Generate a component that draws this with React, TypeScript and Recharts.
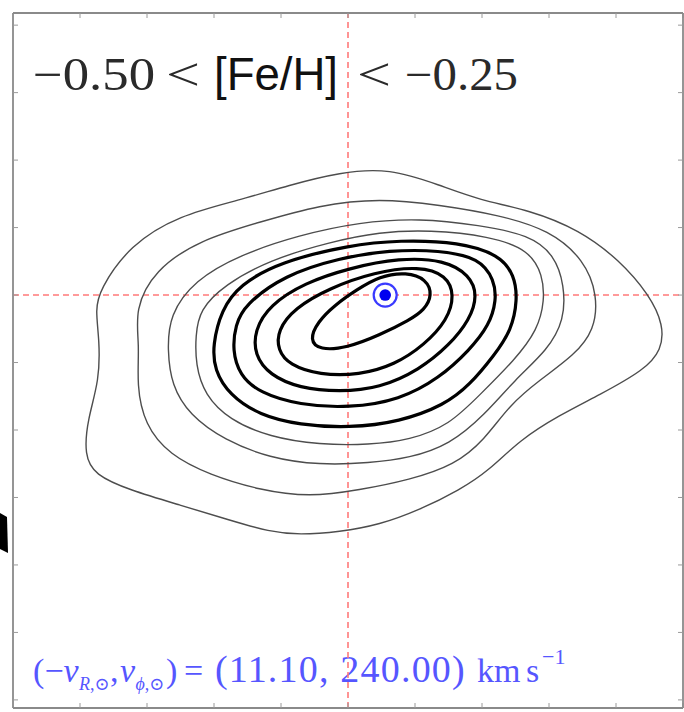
import React from 'react';
import { ScatterChart, Scatter, XAxis, YAxis, ReferenceLine, Customized } from 'recharts';

// Axis ticks (km/s)
const vRTicks = [-100, -80, -60, -40, -20, 0, 20, 40, 60, 80, 100];
const vPhiTicks = [120, 140, 160, 180, 200, 220, 240, 260, 280, 300, 320];

// Solar reference velocity
const sunVelocity = [{ vR: 11.1, vPhi: 240 }];
const sunLabel = '(11.10, 240.00)';
const titleParts = ['\u22120.50', '<', '[Fe/H]', '<', '\u22120.25'];

// Density contours in the (-v_R, v_phi) plane, outermost first
const level1 = [
  { vR: -75.4, vPhi: 235.6 }, { vR: -74.2, vPhi: 241.5 }, { vR: -65.2, vPhi: 254.8 }, { vR: -50.3, vPhi: 263.7 },
  { vR: -32.4, vPhi: 268.1 }, { vR: -17.5, vPhi: 272.6 }, { vR: -2.5, vPhi: 276.4 }, { vR: 12.4, vPhi: 277.6 },
  { vR: 27.3, vPhi: 272.6 }, { vR: 39.3, vPhi: 268.1 }, { vR: 54.2, vPhi: 265.2 }, { vR: 69.1, vPhi: 259.3 },
  { vR: 81.0, vPhi: 250.4 }, { vR: 90.0, vPhi: 240.0 }, { vR: 94.2, vPhi: 231.1 }, { vR: 93.6, vPhi: 223.7 },
  { vR: 88.5, vPhi: 217.8 }, { vR: 75.1, vPhi: 210.4 }, { vR: 63.1, vPhi: 204.4 }, { vR: 51.2, vPhi: 197.0 },
  { vR: 42.2, vPhi: 188.1 }, { vR: 33.3, vPhi: 182.2 }, { vR: 21.3, vPhi: 176.3 }, { vR: 9.4, vPhi: 171.9 },
  { vR: -2.5, vPhi: 169.8 }, { vR: -14.5, vPhi: 168.9 }, { vR: -23.4, vPhi: 169.8 }, { vR: -35.4, vPhi: 173.3 },
  { vR: -50.3, vPhi: 177.8 }, { vR: -65.2, vPhi: 182.2 }, { vR: -75.7, vPhi: 186.7 }, { vR: -78.7, vPhi: 192.6 },
  { vR: -77.8, vPhi: 203.0 }, { vR: -74.2, vPhi: 214.8 }, { vR: -74.2, vPhi: 226.7 },
];

const level2 = [
  { vR: -63.7, vPhi: 235.6 }, { vR: -57.8, vPhi: 247.4 }, { vR: -44.3, vPhi: 256.3 }, { vR: -26.4, vPhi: 261.6 },
  { vR: -8.5, vPhi: 266.7 }, { vR: 9.4, vPhi: 268.7 }, { vR: 27.3, vPhi: 266.7 }, { vR: 45.2, vPhi: 263.7 },
  { vR: 60.1, vPhi: 259.3 }, { vR: 70.6, vPhi: 250.4 }, { vR: 74.5, vPhi: 240.0 }, { vR: 73.6, vPhi: 229.6 },
  { vR: 67.6, vPhi: 222.2 }, { vR: 57.2, vPhi: 214.8 }, { vR: 48.2, vPhi: 207.4 }, { vR: 40.7, vPhi: 197.0 },
  { vR: 31.8, vPhi: 189.6 }, { vR: 18.4, vPhi: 185.2 }, { vR: 3.4, vPhi: 182.2 }, { vR: -11.5, vPhi: 180.1 },
  { vR: -26.4, vPhi: 182.2 }, { vR: -41.3, vPhi: 186.7 }, { vR: -53.3, vPhi: 192.6 }, { vR: -60.7, vPhi: 201.5 },
  { vR: -63.1, vPhi: 213.3 }, { vR: -62.2, vPhi: 225.2 },
];

const level3 = [
  { vR: -53.3, vPhi: 234.1 }, { vR: -45.8, vPhi: 244.4 }, { vR: -32.4, vPhi: 251.9 }, { vR: -14.5, vPhi: 257.8 },
  { vR: 3.4, vPhi: 261.6 }, { vR: 21.3, vPhi: 262.8 }, { vR: 39.3, vPhi: 260.7 }, { vR: 54.2, vPhi: 257.8 },
  { vR: 61.6, vPhi: 251.9 }, { vR: 64.6, vPhi: 243.0 }, { vR: 64.6, vPhi: 232.6 }, { vR: 59.6, vPhi: 223.7 },
  { vR: 49.7, vPhi: 214.8 }, { vR: 40.7, vPhi: 204.4 }, { vR: 30.3, vPhi: 195.6 }, { vR: 18.4, vPhi: 191.7 },
  { vR: 6.4, vPhi: 190.2 }, { vR: -8.5, vPhi: 189.6 }, { vR: -23.4, vPhi: 191.7 }, { vR: -36.9, vPhi: 197.0 },
  { vR: -47.3, vPhi: 204.4 }, { vR: -52.7, vPhi: 213.3 }, { vR: -53.9, vPhi: 223.7 },
];

const level4 = [
  { vR: -44.3, vPhi: 235.6 }, { vR: -36.9, vPhi: 243.0 }, { vR: -23.4, vPhi: 250.4 }, { vR: -5.5, vPhi: 255.7 },
  { vR: 9.4, vPhi: 258.7 }, { vR: 24.3, vPhi: 259.3 }, { vR: 42.2, vPhi: 257.5 }, { vR: 54.2, vPhi: 253.3 },
  { vR: 58.1, vPhi: 245.9 }, { vR: 58.7, vPhi: 238.5 }, { vR: 56.6, vPhi: 229.6 }, { vR: 49.7, vPhi: 220.7 },
  { vR: 39.3, vPhi: 210.4 }, { vR: 30.3, vPhi: 201.5 }, { vR: 18.4, vPhi: 197.0 }, { vR: 6.4, vPhi: 195.6 },
  { vR: -8.5, vPhi: 195.6 }, { vR: -23.4, vPhi: 197.9 }, { vR: -35.4, vPhi: 203.0 }, { vR: -42.8, vPhi: 210.4 },
  { vR: -45.5, vPhi: 219.3 }, { vR: -45.5, vPhi: 228.1 },
];

const level5 = [
  { vR: -37.8, vPhi: 235.6 }, { vR: -32.4, vPhi: 243.0 }, { vR: -20.4, vPhi: 249.8 }, { vR: 0.4, vPhi: 254.8 },
  { vR: 15.4, vPhi: 256.3 }, { vR: 33.3, vPhi: 255.7 }, { vR: 45.2, vPhi: 251.9 }, { vR: 49.7, vPhi: 245.9 },
  { vR: 50.6, vPhi: 238.5 }, { vR: 48.8, vPhi: 229.6 }, { vR: 43.7, vPhi: 222.2 }, { vR: 36.3, vPhi: 213.3 },
  { vR: 28.8, vPhi: 207.4 }, { vR: 15.4, vPhi: 202.4 }, { vR: 0.4, vPhi: 200.6 }, { vR: -14.5, vPhi: 201.5 },
  { vR: -26.4, vPhi: 204.4 }, { vR: -35.4, vPhi: 210.4 }, { vR: -39.9, vPhi: 217.8 }, { vR: -40.4, vPhi: 225.2 },
];

const level6 = [
  { vR: -30.9, vPhi: 237.0 }, { vR: -19.0, vPhi: 245.9 }, { vR: -2.5, vPhi: 251.0 }, { vR: 12.4, vPhi: 253.3 },
  { vR: 27.3, vPhi: 253.3 }, { vR: 39.3, vPhi: 251.0 }, { vR: 43.7, vPhi: 244.4 }, { vR: 44.3, vPhi: 238.5 },
  { vR: 42.2, vPhi: 231.1 }, { vR: 36.3, vPhi: 223.7 }, { vR: 27.3, vPhi: 215.4 }, { vR: 15.4, vPhi: 208.9 },
  { vR: 0.4, vPhi: 206.5 }, { vR: -14.5, vPhi: 207.4 }, { vR: -26.4, vPhi: 211.0 }, { vR: -32.4, vPhi: 216.3 },
  { vR: -34.5, vPhi: 223.7 }, { vR: -33.6, vPhi: 231.1 },
];

const level7 = [
  { vR: -23.4, vPhi: 237.0 }, { vR: -13.0, vPhi: 243.6 }, { vR: 0.4, vPhi: 248.0 }, { vR: 15.4, vPhi: 251.0 },
  { vR: 28.8, vPhi: 250.4 }, { vR: 36.3, vPhi: 245.9 }, { vR: 38.7, vPhi: 240.0 }, { vR: 36.3, vPhi: 232.6 },
  { vR: 30.3, vPhi: 225.2 }, { vR: 21.3, vPhi: 217.8 }, { vR: 9.4, vPhi: 212.4 }, { vR: -2.5, vPhi: 211.3 },
  { vR: -14.5, vPhi: 212.4 }, { vR: -23.4, vPhi: 216.3 }, { vR: -27.9, vPhi: 222.2 }, { vR: -27.9, vPhi: 229.6 },
];

const level8 = [
  { vR: -16.0, vPhi: 236.1 }, { vR: -5.5, vPhi: 242.1 }, { vR: 7.9, vPhi: 246.8 }, { vR: 21.3, vPhi: 248.6 },
  { vR: 29.4, vPhi: 245.9 }, { vR: 31.8, vPhi: 240.0 }, { vR: 29.7, vPhi: 232.6 }, { vR: 22.8, vPhi: 225.2 },
  { vR: 13.9, vPhi: 219.3 }, { vR: 3.4, vPhi: 216.3 }, { vR: -8.5, vPhi: 216.3 }, { vR: -17.5, vPhi: 219.3 },
  { vR: -21.0, vPhi: 223.7 }, { vR: -21.0, vPhi: 229.6 },
];

const level9 = [
  { vR: -9.1, vPhi: 232.0 }, { vR: -4.0, vPhi: 237.0 }, { vR: 2.5, vPhi: 241.5 }, { vR: 9.4, vPhi: 245.6 },
  { vR: 17.5, vPhi: 246.8 }, { vR: 23.4, vPhi: 244.7 }, { vR: 25.2, vPhi: 240.0 }, { vR: 22.8, vPhi: 235.6 },
  { vR: 18.4, vPhi: 232.6 }, { vR: 9.4, vPhi: 228.1 }, { vR: -0.4, vPhi: 224.3 }, { vR: -8.5, vPhi: 223.7 },
  { vR: -11.5, vPhi: 226.7 },
];

const thinLevels = [level1, level2, level3, level4];
const thickLevels = [level5, level6, level7, level8, level9];

const W = 684;
const H = 712;

const noPoint = () => <g />;
const noLabel = () => <g />;

const SunMarker = (props: any) => {
  const { cx, cy } = props;
  return (
    <g>
      <circle cx={cx} cy={cy} r={11.5} fill="#ffffff" stroke="#3a3aff" strokeWidth={2.2} />
      <circle cx={cx} cy={cy} r={5.8} fill="#0000f0" />
    </g>
  );
};

const serif = "'Liberation Serif', 'DejaVu Serif', serif";
const sans = "'Liberation Sans', Arial, sans-serif";

const Annotations = () => {
  const blue = '#5656ff';
  const ink = '#2a2a2a';
  const fit = 'spacingAndGlyphs';
  return (
    <g>
      {/* metallicity bin */}
      <text x={33} y={90} fontFamily={serif} fontSize={46} fill={ink} textLength={122} lengthAdjust={fit}>{titleParts[0]}</text>
      <text x={166} y={90} fontFamily={serif} fontSize={46} fill={ink} textLength={34} lengthAdjust={fit}>{titleParts[1]}</text>
      <text x={214} y={90} fontFamily={sans} fontSize={46} fill="#111" textLength={124} lengthAdjust={fit}>{titleParts[2]}</text>
      <text x={357} y={90} fontFamily={serif} fontSize={46} fill={ink} textLength={34} lengthAdjust={fit}>{titleParts[3]}</text>
      <text x={405} y={90} fontFamily={serif} fontSize={46} fill={ink} textLength={113} lengthAdjust={fit}>{titleParts[4]}</text>

      {/* solar motion */}
      <text y={682} fill={blue} fontFamily={serif} fontSize={34}>
        <tspan x={33}>(</tspan>
        <tspan x={44.5}>{'\u2212'}</tspan>
        <tspan x={63.5} fontStyle="italic">v</tspan>
        <tspan x={79} y={690} fontSize={18} fontStyle="italic">R</tspan>
        <tspan fontSize={18}>,{'\u2299'}</tspan>
        <tspan x={110} y={682}>,</tspan>
        <tspan x={120} fontStyle="italic">v</tspan>
        <tspan x={135.5} y={690} fontSize={18} fontStyle="italic">{'\u03d5'}</tspan>
        <tspan fontSize={18}>,{'\u2299'}</tspan>
        <tspan x={166} y={682}>)</tspan>
        <tspan x={184}>=</tspan>
        <tspan x={215} fontSize={38} letterSpacing={1.2}>{sunLabel}</tspan>
        <tspan x={477} fontSize={34}>km</tspan>
        <tspan x={526} fontSize={34}>s</tspan>
        <tspan x={542} y={664} fontSize={22}>{'\u2212'}1</tspan>
      </text>
    </g>
  );
};

export default function App() {
  const frame = { stroke: '#8a8a8a', strokeWidth: 1.8 };
  const tickStyle = { stroke: '#9a9a9a', strokeWidth: 1 };
  return (
    <div style={{ position: 'absolute', left: 0, top: 0, width: W, height: H, background: '#fff' }}>
      <svg width={10} height={H} style={{ position: 'absolute', left: 0, top: 0 }}>
        <polygon points="0,513 7,517 8,553 0,549" fill="#000" />
      </svg>
      <div style={{ position: 'absolute', left: 0, top: 0 }}>
        <ScatterChart width={W} height={H} margin={{ top: 13, right: 1, bottom: 4, left: 13 }}>
          <XAxis xAxisId={0} type="number" dataKey="vR" domain={[-100, 100]} ticks={vRTicks} orientation="bottom"
            mirror tick={noLabel} tickSize={5} axisLine={frame} tickLine={tickStyle} allowDataOverflow />
          <XAxis xAxisId="top" type="number" dataKey="vR" domain={[-100, 100]} ticks={vRTicks} orientation="top"
            mirror tick={noLabel} tickSize={5} axisLine={frame} tickLine={tickStyle} allowDataOverflow />
          <YAxis yAxisId={0} type="number" dataKey="vPhi" domain={[117.6, 323.6]} ticks={vPhiTicks} orientation="left"
            mirror tick={noLabel} tickSize={5} axisLine={frame} tickLine={tickStyle} allowDataOverflow />
          <YAxis yAxisId="right" type="number" dataKey="vPhi" domain={[117.6, 323.6]} ticks={vPhiTicks} orientation="right"
            mirror tick={noLabel} tickSize={5} axisLine={frame} tickLine={tickStyle} allowDataOverflow />

          <ReferenceLine x={0} stroke="#ff7a7a" strokeWidth={1.6} strokeDasharray="6 4" />
          <ReferenceLine y={240} stroke="#ff7a7a" strokeWidth={1.6} strokeDasharray="6 4" />

          {thinLevels.map((lv, i) => (
            <Scatter key={`thin${i}`} data={lv} shape={noPoint} lineJointType="basisClosed"
              line={{ stroke: '#4d4d4d', strokeWidth: 1.4, fill: 'none' }} isAnimationActive={false} />
          ))}
          {thickLevels.map((lv, i) => (
            <Scatter key={`thick${i}`} data={lv} shape={noPoint} lineJointType="basisClosed"
              line={{ stroke: '#000', strokeWidth: 3.2, fill: 'none' }} isAnimationActive={false} />
          ))}
          <Scatter data={sunVelocity} shape={SunMarker} isAnimationActive={false} />
          <Customized component={Annotations} />
        </ScatterChart>
      </div>
    </div>
  );
}
